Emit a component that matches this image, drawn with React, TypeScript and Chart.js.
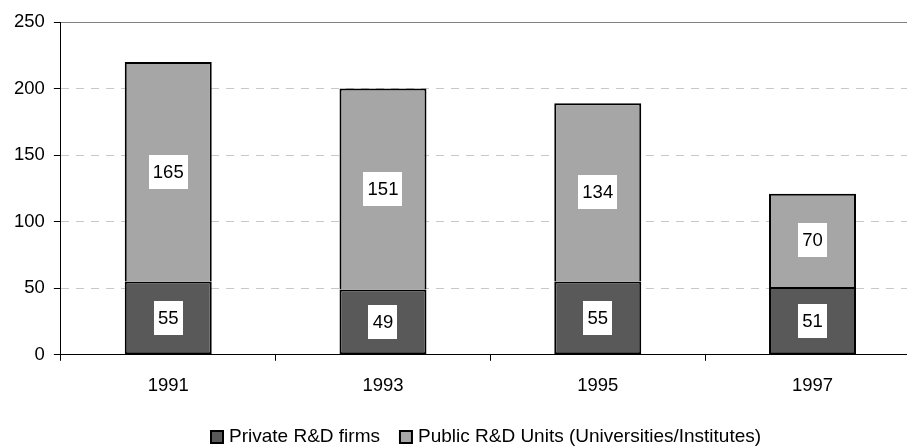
import React, { useEffect, useRef } from "react";
import { Chart, registerables } from "chart.js";

Chart.register(...registerables);

const years = ["1991", "1993", "1995", "1997"];
const privateFirms = [55, 49, 55, 51];
const publicUnits = [165, 151, 134, 70];
const yTicks = [0, 50, 100, 150, 200, 250];
const seriesNames = ["Private R&D firms", "Public R&D Units (Universities/Institutes)"];

const FONT = '"Liberation Sans", Arial, sans-serif';
const DARK = "#595959";
const LIGHT = "#a6a6a6";

const segLabels = {
  id: "segLabels",
  afterDatasetsDraw(chart: any) {
    const ctx = chart.ctx;
    ctx.save();
    ctx.font = `18.5px ${FONT}`;
    ctx.textAlign = "center";
    ctx.textBaseline = "middle";
    chart.data.datasets.forEach((ds: any, di: number) => {
      const meta = chart.getDatasetMeta(di);
      meta.data.forEach((el: any, i: number) => {
        const text = String(ds.data[i].y);
        const w = Math.round(ctx.measureText(text).width + 8);
        const h = 34;
        const cx = el.x;
        const cy = (el.y + el.base) / 2;
        ctx.fillStyle = "#ffffff";
        ctx.fillRect(Math.round(cx - w / 2), Math.round(cy - h / 2), w, h);
        ctx.fillStyle = "#000000";
        ctx.fillText(text, cx, cy + 1);
      });
    });
    ctx.restore();
  },
};

const customLegend = {
  id: "customLegend",
  afterDraw(chart: any) {
    const ctx = chart.ctx;
    ctx.save();
    ctx.font = `19px ${FONT}`;
    ctx.textBaseline = "middle";
    ctx.textAlign = "left";
    const y = 437;
    let x = 210;
    chart.data.datasets.forEach((ds: any, di: number) => {
      ctx.fillStyle = "#000000";
      ctx.fillRect(x, y - 7, 14, 14);
      ctx.fillStyle = ds.backgroundColor;
      ctx.fillRect(x + 2, y - 5, 10, 10);
      const tx = x + 19;
      ctx.fillStyle = "#000000";
      ctx.fillText(seriesNames[di], tx, y);
      x = tx + ctx.measureText(seriesNames[di]).width + 19;
    });
    ctx.restore();
  },
};

export default function App() {
  const ref = useRef<HTMLCanvasElement | null>(null);

  useEffect(() => {
    if (!ref.current) return;
    const chart = new Chart(ref.current, {
      type: "bar",
      data: {
        datasets: [
          {
            label: seriesNames[0],
            data: privateFirms.map((v, i) => ({ x: i, y: v })),
            backgroundColor: DARK,
            borderColor: "#000000",
            borderWidth: 2,
            borderSkipped: false,
            inflateAmount: 0,
            barPercentage: 0.405,
            categoryPercentage: 1,
          },
          {
            label: seriesNames[1],
            data: publicUnits.map((v, i) => ({ x: i, y: v })),
            backgroundColor: LIGHT,
            borderColor: "#000000",
            borderWidth: 2,
            borderSkipped: "bottom",
            inflateAmount: 0,
            barPercentage: 0.405,
            categoryPercentage: 1,
          },
        ],
      },
      options: {
        animation: false,
        responsive: true,
        maintainAspectRatio: false,
        layout: { padding: { top: 22, left: 5, right: 0, bottom: 37 } },
        plugins: {
          legend: { display: false },
          tooltip: { enabled: false },
        },
        scales: {
          x: {
            type: "linear",
            stacked: true,
            offset: false,
            min: -0.5,
            max: 3.44,
            afterBuildTicks: (scale: any) => {
              scale.ticks = years.map((_, i) => ({ value: i }));
            },
            ticks: {
              callback: (v: any) => years[v] ?? "",
              color: "#000000",
              font: { family: FONT, size: 18.5 },
              padding: 14,
              maxRotation: 0,
              autoSkip: false,
            },
            grid: {
              display: true,
              drawOnChartArea: false,
              drawTicks: true,
              tickLength: 6,
              tickColor: "#000000",
              offset: true,
            },
            border: { display: true, color: "#000000", width: 1 },
          },
          y: {
            stacked: true,
            min: 0,
            max: 250,
            afterBuildTicks: (scale: any) => {
              scale.ticks = yTicks.map((v) => ({ value: v }));
            },
            ticks: {
              color: "#000000",
              font: { family: FONT, size: 18.5 },
              padding: 9,
            },
            grid: {
              color: (c: any) => (c.tick && c.tick.value === 250 ? "#808080" : "#c8c8c8"),
              lineWidth: 1,
              tickLength: 7,
              tickColor: "#000000",
            },
            border: {
              display: true,
              color: "#000000",
              width: 1,
              dash: (c: any) => (c.tick && c.tick.value === 250 ? [] : [8, 7]),
            },
          },
        },
      },
      plugins: [segLabels, customLegend],
    });
    return () => chart.destroy();
  }, []);

  return (
    <div style={{ position: "absolute", left: 0, top: 0, width: 907, height: 448, background: "#ffffff" }}>
      <canvas ref={ref} />
    </div>
  );
}
